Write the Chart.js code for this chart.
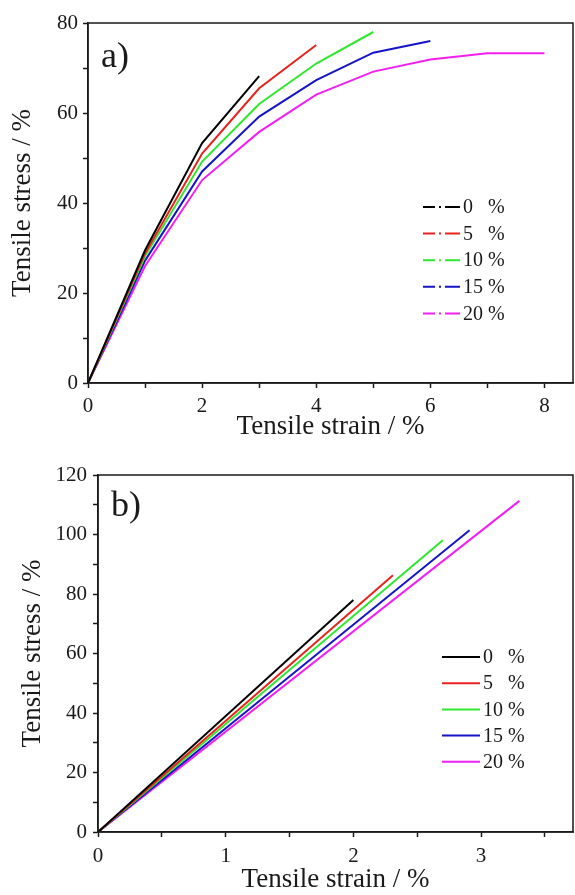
<!DOCTYPE html>
<html>
<head>
<meta charset="utf-8">
<script src="https://cdn.jsdelivr.net/npm/chart.js@4/dist/chart.umd.min.js"></script>
<style>
  html, body { margin: 0; padding: 0; background: #fff; }
  #wrapA { position: absolute; left: 0; top: 0; width: 575px; height: 440px; }
  #wrapB { position: absolute; left: 0; top: 440px; width: 575px; height: 455px; }
</style>
</head>
<body>
<div id="wrapA"><canvas id="chartA"></canvas></div>
<div id="wrapB"><canvas id="chartB"></canvas></div>
<script>
const seriesLabels = ['0   %', '5   %', '10 %', '15 %', '20 %'];
const seriesColors = ['#000000', '#e8221c', '#2ee82e', '#1515c8', '#f21ff2'];

// panel a) tensile strain (%) / stress per series
const strainA = [
  [0, 1, 2, 3],
  [0, 1, 2, 3, 4],
  [0, 1, 2, 3, 4, 5],
  [0, 1, 2, 3, 4, 5, 6],
  [0, 1, 2, 3, 4, 5, 6, 7, 8]
];
const stressA = [
  [0, 29.5, 53.3, 68.2],
  [0, 28.8, 51, 65.5, 75.1],
  [0, 28.2, 49.2, 62, 71, 78],
  [0, 27.2, 47, 59.2, 67.3, 73.4, 76],
  [0, 26, 45.1, 55.8, 64.1, 69.2, 71.9, 73.3, 73.3]
];

// panel b)
const strainB = [
  [0, 2.0],
  [0, 2.31],
  [0, 2.70],
  [0, 2.91],
  [0, 3.30]
];
const stressB = [
  [0, 78],
  [0, 86.3],
  [0, 98.1],
  [0, 101.4],
  [0, 111.3]
];

const FONT = '"Liberation Serif", "Times New Roman", serif';
const INK = '#1a1a1a';

function makeDatasets(xs, ys) {
  return xs.map((row, i) => ({
    label: seriesLabels[i],
    data: row.map((x, j) => ({ x: x, y: ys[i][j] })),
    borderColor: seriesColors[i],
    backgroundColor: seriesColors[i],
    borderWidth: 2,
    pointRadius: 0,
    showLine: true,
    tension: 0
  }));
}

const framePlugin = {
  id: 'frame',
  afterDraw(chart, args, opts) {
    const ctx = chart.ctx;
    const a = chart.chartArea;
    ctx.save();
    ctx.strokeStyle = INK;
    ctx.lineWidth = 1.5;
    ctx.strokeRect(a.left, a.top, a.right - a.left, a.bottom - a.top);

    // panel letter
    ctx.fillStyle = INK;
    ctx.font = opts.letterSize + 'px ' + FONT;
    ctx.textBaseline = 'middle';
    ctx.textAlign = 'left';
    ctx.fillText(opts.letter, opts.letterX, opts.letterY);

    // legend
    ctx.font = opts.legendFont + 'px ' + FONT;
    chart.data.datasets.forEach((ds, i) => {
      const y = opts.legY + i * opts.legStep;
      ctx.strokeStyle = ds.borderColor;
      ctx.lineWidth = 2;
      ctx.setLineDash(opts.dash);
      ctx.beginPath();
      ctx.moveTo(opts.legX0, y);
      ctx.lineTo(opts.legX1, y);
      ctx.stroke();
      ctx.setLineDash([]);
      ctx.fillStyle = INK;
      ctx.fillText(ds.label, opts.legText, y + 1);
    });
    ctx.restore();
  }
};

function axis(min, max, step, major, titleText, fit, titlePad, tickPad, horizontal) {
  return {
    type: 'linear',
    min: min,
    max: max,
    afterFit: s => { if (horizontal) s.height = fit; else s.width = fit; },
    ticks: {
      stepSize: step,
      includeBounds: false,
      autoSkip: false,
      maxRotation: 0,
      padding: tickPad,
      color: INK,
      font: { family: FONT, size: 21 },
      callback: v => (Math.abs(v / major - Math.round(v / major)) < 1e-6 ? v : '')
    },
    grid: {
      display: true,
      drawOnChartArea: false,
      drawTicks: true,
      tickLength: 5,
      tickWidth: 1.5,
      tickColor: INK
    },
    border: { display: true, color: INK, width: 1.5 },
    title: {
      display: true,
      text: titleText,
      color: INK,
      font: { family: FONT, size: 27, lineHeight: 1 },
      padding: titlePad
    }
  };
}

new Chart(document.getElementById('chartA'), {
  type: 'scatter',
  data: { datasets: makeDatasets(strainA, stressA) },
  options: {
    responsive: true,
    maintainAspectRatio: false,
    animation: false,
    layout: { padding: { top: 23, right: 2, left: 0, bottom: 0 } },
    plugins: {
      legend: { display: false },
      tooltip: { enabled: false },
      frame: {
        letter: 'a)', letterSize: 36, letterX: 101, letterY: 58,
        legendFont: 20, legX0: 423, legX1: 460, legText: 463, legY: 207, legStep: 26.6,
        dash: [12, 4, 2, 4, 16, 100]
      }
    },
    scales: {
      x: axis(0, 8.5, 1, 2, 'Tensile strain / %', 57, { top: 0, bottom: -0.5 }, 6, true),
      y: axis(0, 80, 10, 20, 'Tensile stress / %', 88, { top: 9.5, bottom: 0 }, 5, false)
    }
  },
  plugins: [framePlugin]
});

new Chart(document.getElementById('chartB'), {
  type: 'scatter',
  data: { datasets: makeDatasets(strainB, stressB) },
  options: {
    responsive: true,
    maintainAspectRatio: false,
    animation: false,
    layout: { padding: { top: 35, right: 2, left: 0, bottom: 0 } },
    plugins: {
      legend: { display: false },
      tooltip: { enabled: false },
      frame: {
        letter: 'b)', letterSize: 36, letterX: 111, letterY: 67,
        legendFont: 20, legX0: 442, legX1: 480, legText: 483, legY: 217, legStep: 26.2,
        dash: []
      }
    },
    scales: {
      x: axis(0, 3.72, 0.5, 1, 'Tensile strain / %', 63, { top: 0, bottom: 2 }, 7, true),
      y: axis(0, 120, 10, 20, 'Tensile stress / %', 98, { top: 19.5, bottom: 0 }, 6, false)
    }
  },
  plugins: [framePlugin]
});
</script>
</body>
</html>
